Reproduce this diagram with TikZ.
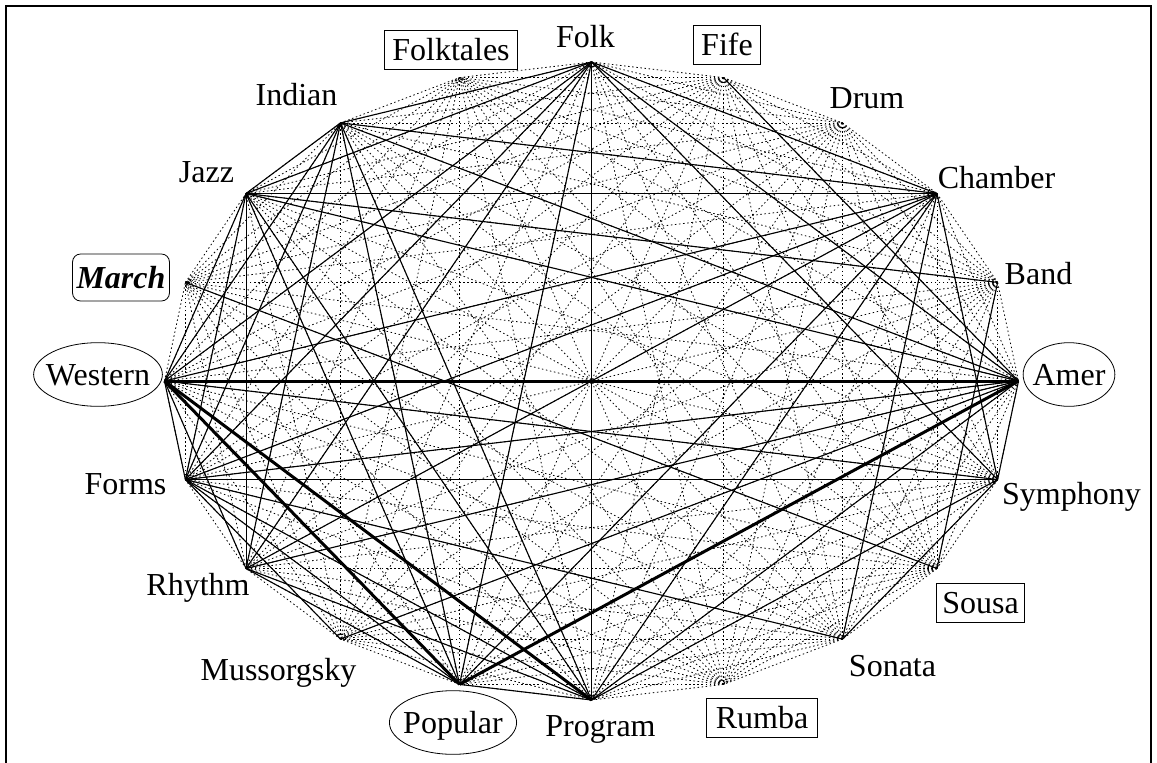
\documentclass[tikz,border=0pt]{standalone}
\usepackage{fontspec}
\setmainfont{Liberation Serif}
\usetikzlibrary{shapes.geometric}
\begin{document}
\begin{tikzpicture}[x=1pt,y=-1pt,
  dotline/.style={line width=0.8pt,dash pattern=on 1.5pt off 2.6pt},
  solidline/.style={line width=1.1pt},
  thickline/.style={line width=3pt},
  lbl/.style={anchor=base,font=\fontsize{32}{36}\selectfont,inner sep=0pt},
  boxlbl/.style={lbl,draw,line width=0.8pt,text height=22pt,text depth=1pt,inner xsep=8pt,inner ysep=8pt},
  elllbl/.style={lbl,draw,ellipse,line width=0.8pt,text height=22pt,text depth=1pt,inner ysep=11pt}]
\useasboundingbox (0,0) rectangle (1157,763);
\draw[line width=2pt] (6,780) -- (6,6) -- (1151,6) -- (1151,780);
% vertices on an ellipse
\foreach \k in {0,...,19}{
  \coordinate (v\k) at ({591.5+427*cos(90-18*\k)},{381-319*sin(90-18*\k)});
}
% dotted complete graph
\foreach \i in {0,...,18}{
  \pgfmathtruncatemacro\s{\i+1}
  \foreach \j in {\s,...,19}{\draw[dotline] (v\i) -- (v\j);}
}
% solid edges
\foreach \a/\b in {0/18,0/17,0/15,0/14,0/13,0/11,0/10,0/5,0/3,0/6,
  3/17,3/18,3/15,3/14,3/13,3/11,3/10,3/8,3/6,
  5/17,5/18,5/1,5/14,5/13,5/10,5/12,5/6,
  15/17,15/18,15/14,15/13,15/6,
  14/6,14/17,14/18,14/11,14/10,14/8,14/12,
  13/17,13/18,13/11,13/10,
  11/17,11/18,11/10,
  10/17,10/18,10/6,
  6/8,17/18,
  16/7,7/4,4/17}{
  \draw[solidline] (v\a) -- (v\b);
}
% thick edges
\foreach \a/\b in {5/15,5/11,15/11,15/10}{
  \draw[thickline] (v\a) -- (v\b);
}
% labels
\node[lbl] (Folk) at (585.5,47) {Folk};
\node[boxlbl] (Fife) at (727,55) {Fife};
\node[lbl] (Drum) at (867,108) {Drum};
\node[lbl] (Chamber) at (996.5,188) {Chamber};
\node[lbl] (Band) at (1038.5,284) {Band};
\node[elllbl,inner xsep=-4pt] (Amer) at (1069,385) {Amer};
\node[lbl] (Symphony) at (1071.5,504) {Symphony};
\node[boxlbl,inner xsep=6pt] (Sousa) at (980.5,613) {Sousa};
\node[lbl] (Sonata) at (892.5,676) {Sonata};
\node[boxlbl,inner xsep=9pt] (Rumba) at (762,728) {Rumba};
\node[lbl] (Program) at (600.5,736) {Program};
\node[elllbl,inner xsep=-4.8pt] (Popular) at (453,733) {Popular};
\node[lbl] (Mussorgsky) at (278.5,680) {Mussorgsky};
\node[lbl] (Rhythm) at (198,595) {Rhythm};
\node[lbl] (Forms) at (125.5,494) {Forms};
\node[elllbl,inner xsep=-6.5pt] (Western) at (98,385) {Western};
\node[boxlbl,rounded corners=8pt,inner xsep=4pt,inner ysep=12pt,font=\fontsize{32}{36}\selectfont\bfseries\itshape] (March) at (121,288) {March};
\node[lbl] (Jazz) at (206.5,182) {Jazz};
\node[lbl] (Indian) at (296.5,105) {Indian};
\node[boxlbl] (Folktales) at (451,60) {Folktales};
\end{tikzpicture}
\end{document}
